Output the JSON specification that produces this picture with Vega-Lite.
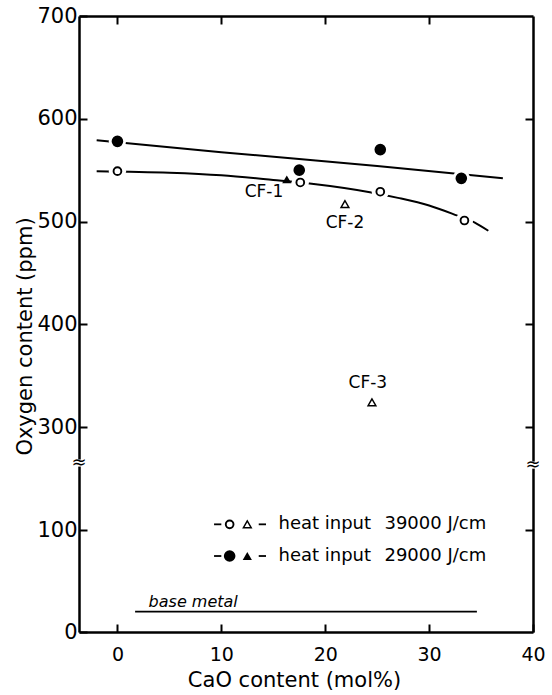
{
  "$schema": "https://vega.github.io/schema/vega-lite/v6.json",
  "width": 454,
  "height": 616,
  "autosize": "none",
  "padding": {"left": 79, "top": 16, "right": 19, "bottom": 63},
  "background": "white",
  "config": {
    "view": {"stroke": null},
    "font": "DejaVu Sans",
    "axis": {"domainColor": "black", "domainWidth": 2.5, "tickColor": "black", "tickWidth": 2, "labelColor": "black", "titleColor": "black", "grid": false, "labelFont": "DejaVu Sans", "titleFont": "DejaVu Sans", "titleFontWeight": "normal"}
  },
  "datasets": {
    "pts": [
      {"x": 0, "y": 549, "heat": "39000", "kind": "fit"},
      {"x": 17.6, "y": 538, "heat": "39000", "kind": "fit"},
      {"x": 25.3, "y": 529, "heat": "39000", "kind": "fit"},
      {"x": 33.4, "y": 501, "heat": "39000", "kind": "fit"},
      {"x": 0, "y": 578, "heat": "29000", "kind": "fit"},
      {"x": 17.5, "y": 550, "heat": "29000", "kind": "fit"},
      {"x": 25.3, "y": 570, "heat": "29000", "kind": "fit"},
      {"x": 33.1, "y": 542, "heat": "29000", "kind": "fit"},
      {"x": 16.3, "y": 541, "heat": "29000", "kind": "CF"},
      {"x": 21.9, "y": 517, "heat": "39000", "kind": "CF"},
      {"x": 24.5, "y": 324, "heat": "39000", "kind": "CF"}
    ],
    "curves": [
      {"x": -2, "y": 579, "heat": "29000"},
      {"x": 10, "y": 567.5, "heat": "29000"},
      {"x": 25, "y": 554, "heat": "29000"},
      {"x": 37.1, "y": 542, "heat": "29000"},
      {"x": -2, "y": 549, "heat": "39000"},
      {"x": 5, "y": 547.5, "heat": "39000"},
      {"x": 10, "y": 545, "heat": "39000"},
      {"x": 15, "y": 540.5, "heat": "39000"},
      {"x": 18.5, "y": 537, "heat": "39000"},
      {"x": 24.3, "y": 528.5, "heat": "39000"},
      {"x": 27, "y": 523, "heat": "39000"},
      {"x": 30, "y": 515.5, "heat": "39000"},
      {"x": 32.5, "y": 506.5, "heat": "39000"},
      {"x": 34.4, "y": 499, "heat": "39000"},
      {"x": 35.7, "y": 491, "heat": "39000"}
    ],
    "cflabels": [
      {"x": 14.1, "y": 529, "text": "CF-1"},
      {"x": 21.9, "y": 499, "text": "CF-2"},
      {"x": 24.1, "y": 343, "text": "CF-3"}
    ],
    "base": [{"x": 1.7, "x2": 34.6, "y": 20}],
    "baselabel": [{"x": 3.0, "y": 25, "text": "base metal"}],
    "breaks": [{"x": -3.7, "y": 230}, {"x": 40, "y": 226}],
    "legsym": [
      {"x": 10.8, "y": 111, "heat": "39000", "shape": "circle"},
      {"x": 12.5, "y": 111, "heat": "39000", "shape": "triangle"},
      {"x": 10.8, "y": 74.5, "heat": "29000", "shape": "circle"},
      {"x": 12.5, "y": 74.5, "heat": "29000", "shape": "triangle"}
    ],
    "legdash": [
      {"x": 9.3, "x2": 10.0, "y": 111},
      {"x": 13.6, "x2": 14.3, "y": 111},
      {"x": 9.3, "x2": 10.0, "y": 74.5},
      {"x": 13.6, "x2": 14.3, "y": 74.5}
    ],
    "legtext": [
      {"x": 15.5, "y": 111, "text": "heat input"},
      {"x": 25.7, "y": 111, "text": "39000 J/cm"},
      {"x": 15.5, "y": 74.5, "text": "heat input"},
      {"x": 25.7, "y": 74.5, "text": "29000 J/cm"}
    ]
  },
  "encoding": {
    "x": {"field": "x", "type": "quantitative", "scale": {"domain": [-3.7, 40], "zero": false, "nice": false}, "axis": null},
    "y": {"field": "y", "type": "quantitative", "scale": {"type": "linear", "domain": [0, 100, 300, 700], "range": [616, 514, 411, 0], "zero": false, "nice": false}, "axis": null}
  },
  "resolve": {"axis": {"x": "independent", "y": "independent"}},
  "layer": [
    {
      "data": {"name": "curves"},
      "mark": {"type": "line", "color": "black", "strokeWidth": 2, "interpolate": "monotone"},
      "encoding": {
        "x": {"field": "x", "type": "quantitative", "scale": {"domain": [-3.7, 40], "zero": false, "nice": false},
          "axis": {"orient": "bottom", "values": [0, 10, 20, 30, 40], "tickSize": -8, "labelPadding": 21, "labelFontSize": 19, "labelFlush": false, "title": "CaO content (mol%)", "titleFontSize": 21, "titleX": 215, "titleY": 54, "titleBaseline": "alphabetic", "titleAnchor": null, "titleAlign": "center"}},
        "y": {"field": "y", "type": "quantitative", "scale": {"type": "linear", "domain": [0, 100, 300, 700], "range": [616, 514, 411, 0], "zero": false, "nice": false},
          "axis": {"orient": "left", "values": [0, 100, 300, 400, 500, 600, 700], "tickSize": -8, "labelPadding": 10, "labelFontSize": 21, "labelFlush": false, "title": "Oxygen content (ppm)", "titleFontSize": 21, "titleX": -48, "titleY": 320, "titleBaseline": "alphabetic", "titleAnchor": null, "titleAlign": "center", "titleAngle": 270}},
        "detail": {"field": "heat", "type": "nominal"}
      }
    },
    {
      "data": {"name": "base"},
      "mark": {"type": "rule", "color": "black", "strokeWidth": 1.8},
      "encoding": {
        "x": {"field": "x", "type": "quantitative", "scale": {"domain": [-3.7, 40], "zero": false, "nice": false},
          "axis": {"orient": "top", "values": [0, 10, 20, 30], "tickSize": -8, "labels": false, "title": null}},
        "x2": {"field": "x2"},
        "y": {"field": "y", "type": "quantitative", "scale": {"type": "linear", "domain": [0, 100, 300, 700], "range": [616, 514, 411, 0], "zero": false, "nice": false},
          "axis": {"orient": "right", "values": [100, 300, 400, 500, 600], "tickSize": -8, "labels": false, "title": null}}
      }
    },
    {
      "data": {"name": "baselabel"},
      "mark": {"type": "text", "align": "left", "baseline": "alphabetic", "fontSize": 16, "fontStyle": "italic", "color": "black"},
      "encoding": {"text": {"field": "text"}}
    },
    {
      "data": {"name": "pts"},
      "transform": [{"filter": "datum.kind == 'fit'"}],
      "mark": {"type": "point", "shape": "circle", "filled": true, "color": "white", "opacity": 1, "size": 300}
    },
    {
      "data": {"name": "pts"},
      "transform": [{"filter": "datum.kind == 'fit' && datum.heat == '39000'"}],
      "mark": {"type": "point", "shape": "circle", "fill": "white", "stroke": "black", "strokeWidth": 1.9, "opacity": 1, "size": 60}
    },
    {
      "data": {"name": "pts"},
      "transform": [{"filter": "datum.kind == 'fit' && datum.heat == '29000'"}],
      "mark": {"type": "point", "shape": "circle", "filled": true, "color": "black", "opacity": 1, "size": 135}
    },
    {
      "data": {"name": "pts"},
      "transform": [{"filter": "datum.kind == 'CF' && datum.heat == '39000'"}],
      "mark": {"type": "point", "shape": "triangle-up", "fill": "white", "stroke": "black", "strokeWidth": 1.5, "opacity": 1, "size": 60}
    },
    {
      "data": {"name": "pts"},
      "transform": [{"filter": "datum.kind == 'CF' && datum.heat == '29000'"}],
      "mark": {"type": "point", "shape": "triangle-up", "filled": true, "color": "black", "opacity": 1, "size": 85}
    },
    {
      "data": {"name": "cflabels"},
      "mark": {"type": "text", "fontSize": 17, "color": "black", "baseline": "middle", "align": "center"},
      "encoding": {"text": {"field": "text"}}
    },
    {
      "data": {"name": "legdash"},
      "mark": {"type": "rule", "color": "black", "strokeWidth": 1.8},
      "encoding": {"x2": {"field": "x2"}}
    },
    {
      "data": {"name": "legsym"},
      "transform": [{"filter": "datum.heat == '39000' && datum.shape == 'circle'"}],
      "mark": {"type": "point", "shape": "circle", "fill": "white", "stroke": "black", "strokeWidth": 1.9, "opacity": 1, "size": 60}
    },
    {
      "data": {"name": "legsym"},
      "transform": [{"filter": "datum.heat == '39000' && datum.shape == 'triangle'"}],
      "mark": {"type": "point", "shape": "triangle-up", "fill": "white", "stroke": "black", "strokeWidth": 1.5, "opacity": 1, "size": 60}
    },
    {
      "data": {"name": "legsym"},
      "transform": [{"filter": "datum.heat == '29000' && datum.shape == 'circle'"}],
      "mark": {"type": "point", "shape": "circle", "filled": true, "color": "black", "opacity": 1, "size": 135}
    },
    {
      "data": {"name": "legsym"},
      "transform": [{"filter": "datum.heat == '29000' && datum.shape == 'triangle'"}],
      "mark": {"type": "point", "shape": "triangle-up", "filled": true, "color": "black", "opacity": 1, "size": 85}
    },
    {
      "data": {"name": "legtext"},
      "mark": {"type": "text", "align": "left", "baseline": "middle", "fontSize": 18, "color": "black"},
      "encoding": {"text": {"field": "text"}}
    },
    {
      "data": {"name": "breaks"},
      "mark": {"type": "point", "shape": "square", "filled": true, "color": "white", "opacity": 1, "size": 50},
      "encoding": {}
    },
    {
      "data": {"name": "breaks"},
      "mark": {"type": "text", "text": "≈", "fontSize": 18, "color": "black", "baseline": "middle", "align": "center"}
    }
  ]
}
